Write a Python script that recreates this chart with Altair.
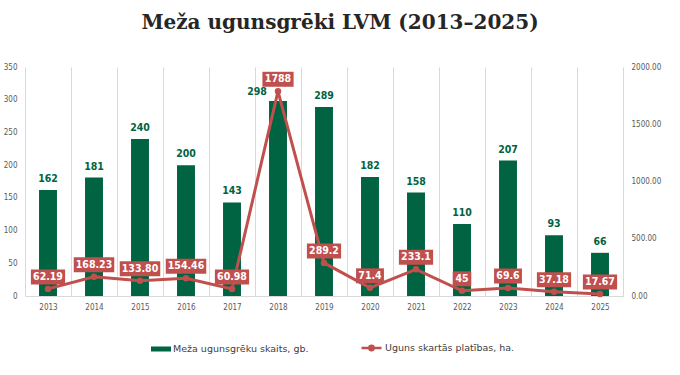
import altair as alt
import pandas as pd

# ---- data ----
years = ["2013", "2014", "2015", "2016", "2017", "2018", "2019",
         "2020", "2021", "2022", "2023", "2024", "2025"]
fires = [162, 181, 240, 200, 143, 298, 289, 182, 158, 110, 207, 93, 66]
area = [62.19, 168.23, 133.80, 154.46, 60.98, 1788, 289.2, 71.4, 233.1, 45, 69.6, 37.18, 17.67]
area_labels = ["62.19", "168.23", "133.80", "154.46", "60.98", "1788", "289.2",
               "71.4", "233.1", "45", "69.6", "37.18", "17.67"]
left_ticks = [0, 50, 100, 150, 200, 250, 300, 350]
right_ticks = [0, 500, 1000, 1500, 2000]
bar_name = "Meža ugunsgrēku skaits, gb."
line_name = "Uguns skartās platības, ha."
title_text = "Meža ugunsgrēki LVM (2013–2025)"

GREEN = "#006341"
RED = "#C0504D"
AX_FONT = "DejaVu Sans Condensed"


def box_path(label):
    # label background box, sized from the label's text length
    digits = sum(c.isdigit() for c in label)
    dots = label.count(".")
    hw = (digits * 6.3 + dots * 3 + 6) / 2
    hh = 7.5
    s = 50.0  # sqrt(size)/2 with size=10000
    return f"M{-hw/s:.3f},{-hh/s:.3f}H{hw/s:.3f}V{hh/s:.3f}H{-hw/s:.3f}Z"


df = pd.DataFrame({
    "year": years,
    "fires": fires,
    "area": area,
    "label": area_labels,
    "box": [box_path(l) for l in area_labels],
    "s1": bar_name,
    "s2": line_name,
})

x = alt.X("year:O",
          scale=alt.Scale(paddingInner=0, paddingOuter=0),
          axis=alt.Axis(title=None, labelAngle=0, tickBand="extent", tickExtra=False,
                        grid=True, gridColor="#D9D9D9", ticks=False,
                        domainColor="#D9D9D9", labelPadding=7,
                        labelFont=AX_FONT, labelFontSize=8, labelColor="#595959"))

y_left = alt.Y("fires:Q",
               scale=alt.Scale(domain=[0, 350]),
               axis=alt.Axis(title=None, values=left_ticks, grid=False, domain=False,
                             ticks=False, labelPadding=8, labelFont=AX_FONT,
                             labelFontSize=8, labelColor="#595959"))

y_right = alt.Y("area:Q",
                scale=alt.Scale(domain=[0, 2000]),
                axis=alt.Axis(title=None, orient="right", values=right_ticks, format=".2f",
                              grid=False, domain=False, ticks=False, labelPadding=8,
                              labelFont=AX_FONT, labelFontSize=8, labelColor="#595959"))

base = alt.Chart(df)

bars = base.mark_bar(width=alt.RelativeBandSize(0.39)).encode(
    x=x, y=y_left,
    color=alt.Color("s1:N", scale=alt.Scale(range=[GREEN]),
                    legend=alt.Legend(title=None, orient="none", legendX=126, legendY=272,
                                      symbolType="M-1,-0.25H1V0.25H-1Z", symbolSize=400,
                                      symbolStrokeWidth=0, labelFont="DejaVu Sans",
                                      labelFontSize=9.5, labelColor="#404040",
                                      labelOffset=2, padding=0)),
)

bar_txt = base.transform_filter("datum.year != '2018'").mark_text(
    dy=-11, baseline="middle", font=AX_FONT, fontWeight="bold", fontSize=10.5, color=GREEN
).encode(x=x, y=y_left, text="fires:Q")

bar_txt_2018 = base.transform_filter("datum.year == '2018'").mark_text(
    dx=-21, dy=-9, baseline="middle", font=AX_FONT, fontWeight="bold", fontSize=10.5, color=GREEN
).encode(x=x, y=y_left, text="fires:Q")

line = base.mark_line(strokeWidth=3, point=alt.OverlayMarkDef(filled=True, size=20, color=RED)).encode(
    x=x, y=y_right,
    stroke=alt.Stroke("s2:N", scale=alt.Scale(range=[RED]),
                      legend=alt.Legend(title=None, orient="none", legendX=335, legendY=269.5,
                                        symbolType="M-1,0H1M-0.22,0a0.22,0.22 0 1,0 0.44,0a0.22,0.22 0 1,0 -0.44,0",
                                        symbolSize=400, symbolStrokeWidth=2.5,
                                        labelFont="DejaVu Sans", labelFontSize=9.5,
                                        labelColor="#404040", labelOffset=2, padding=0)),
)

boxes = base.mark_point(filled=True, fill=RED, opacity=1, size=10000, yOffset=-12,
                        strokeWidth=0).encode(
    x=x, y=y_right, shape=alt.Shape("box:N", scale=None, legend=None))

box_txt = base.mark_text(dy=-12, baseline="middle", font=AX_FONT, fontWeight="bold",
                         fontSize=10.5, color="white").encode(x=x, y=y_right, text="label:N")

left = alt.layer(bars, bar_txt, bar_txt_2018)
right = alt.layer(line, boxes, box_txt)

chart = alt.layer(left, right).resolve_scale(y="independent").properties(
    width=598, height=229,
    title=alt.TitleParams(title_text, font="DejaVu Serif", fontSize=20, fontWeight="bold",
                          color="#262626", anchor="middle", dx=16, offset=14,
                          baseline="alphabetic"),
    autosize=alt.AutoSizeParams(type="none"),
    padding={"left": 25, "top": 67, "right": 57, "bottom": 79},
    background="white",
).configure_view(stroke=None)

chart.save("out.html", embed_options={"renderer": "svg", "actions": False})
